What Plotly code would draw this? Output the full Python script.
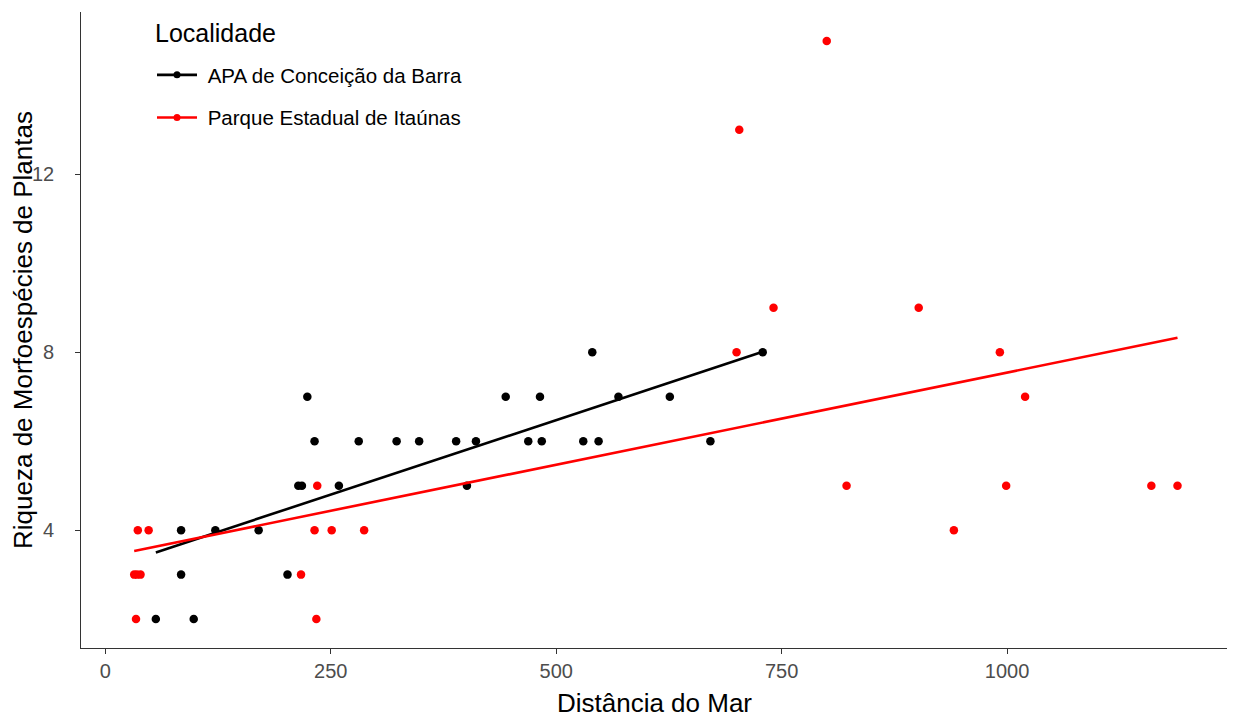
import numpy as np
import plotly.graph_objects as go

# Data
groups = ["APA de Conceição da Barra", "Parque Estadual de Itaúnas"]
colors = ["#000000", "#FF0000"]
legend_title = "Localidade"

apa_dist = [56, 98, 84, 202, 84, 122, 170, 214, 218, 224, 232, 259, 281, 323, 348,
            389, 401, 411, 444, 469, 482, 484, 530, 540, 547, 569, 626, 671, 729]
apa_riq = [2, 2, 3, 3, 4, 4, 4, 5, 5, 7, 6, 5, 6, 6, 6,
           6, 5, 6, 7, 6, 7, 6, 6, 8, 6, 7, 7, 6, 8]

pei_dist = [34, 234, 32, 35, 39, 217, 36, 48, 232, 251, 287, 235, 822, 999, 1160,
            1189, 941, 1020, 700, 992, 741, 902, 703, 800]
pei_riq = [2, 2, 3, 3, 3, 3, 4, 4, 4, 4, 4, 5, 5, 5, 5,
           5, 4, 7, 8, 8, 9, 9, 13, 15]

x_ticks = [0, 250, 500, 750, 1000]
y_ticks = [4, 8, 12]

FONT = "Liberation Sans, Arial, sans-serif"

fig = go.Figure()

data = [(apa_dist, apa_riq), (pei_dist, pei_riq)]
for name, col, (xs, ys) in zip(groups, colors, data):
    xs = np.array(xs, dtype=float)
    ys = np.array(ys, dtype=float)
    slope, intercept = np.polyfit(xs, ys, 1)
    xl = np.linspace(xs.min(), xs.max(), 50)
    fig.add_trace(go.Scatter(x=xs, y=ys, mode="markers", showlegend=False,
                             marker=dict(color=col, size=8.5, line=dict(width=0)),
                             name=name, legendgroup=name))
    fig.add_trace(go.Scatter(x=xl, y=intercept + slope * xl, mode="lines", showlegend=False,
                             line=dict(color=col, width=2.6), name=name, legendgroup=name))
    fig.add_trace(go.Scatter(x=[None], y=[None], mode="lines+markers", name="\u00a0" + name,
                             legendgroup=name, showlegend=True,
                             line=dict(color=col, width=2.6),
                             marker=dict(color=col, size=7)))

# The page body has an 8px margin, so the figure is drawn 8px smaller
W, H = 1227, 712
PL, PT, PR, PB = 73, 4, 7, 72
plot_w = W - PL - PR
plot_h = H - PT - PB

fig.add_annotation(text=legend_title, xref="paper", yref="paper",
                   x=(145 - PL) / plot_w, y=1 - (25 - PT) / plot_h,
                   xanchor="left", yanchor="middle", showarrow=False,
                   font=dict(size=25, family=FONT, color="#000000"))

nb = "\u00a0" * 3
fig.update_layout(
    width=W, height=H,
    paper_bgcolor="white", plot_bgcolor="white",
    margin=dict(l=PL, r=PR, t=PT, b=PB),
    font=dict(family=FONT, color="#000000"),
    xaxis=dict(range=[-27, 1245], tickvals=x_ticks, showgrid=False, zeroline=False,
               automargin=False,
               showline=True, linecolor="#333333", linewidth=1.2,
               ticks="outside", ticklen=5, tickcolor="#333333", tickwidth=1.1,
               tickfont=dict(size=20, color="#4D4D4D", family=FONT),
               title=dict(text="Distância do Mar", font=dict(size=26, color="#000000"), standoff=12)),
    yaxis=dict(range=[1.35, 15.65], tickvals=y_ticks, ticktext=[f"{v}{nb}" for v in y_ticks],
               showgrid=False, zeroline=False,
               automargin=False,
               showline=True, linecolor="#333333", linewidth=1.2,
               ticks="outside", ticklen=5, tickcolor="#333333", tickwidth=1.1,
               tickfont=dict(size=20, color="#4D4D4D", family=FONT),
               title=dict(text="Riqueza de Morfoespécies de Plantas", font=dict(size=26, color="#000000"), standoff=4)),
    legend=dict(x=(144 - PL) / plot_w, y=1 - (47 - PT) / plot_h, xanchor="left", yanchor="top",
                bgcolor="rgba(0,0,0,0)", borderwidth=0,
                font=dict(size=20.5, family=FONT, color="#000000"),
                tracegroupgap=13, itemwidth=40),
)

fig.write_html("out.html")
